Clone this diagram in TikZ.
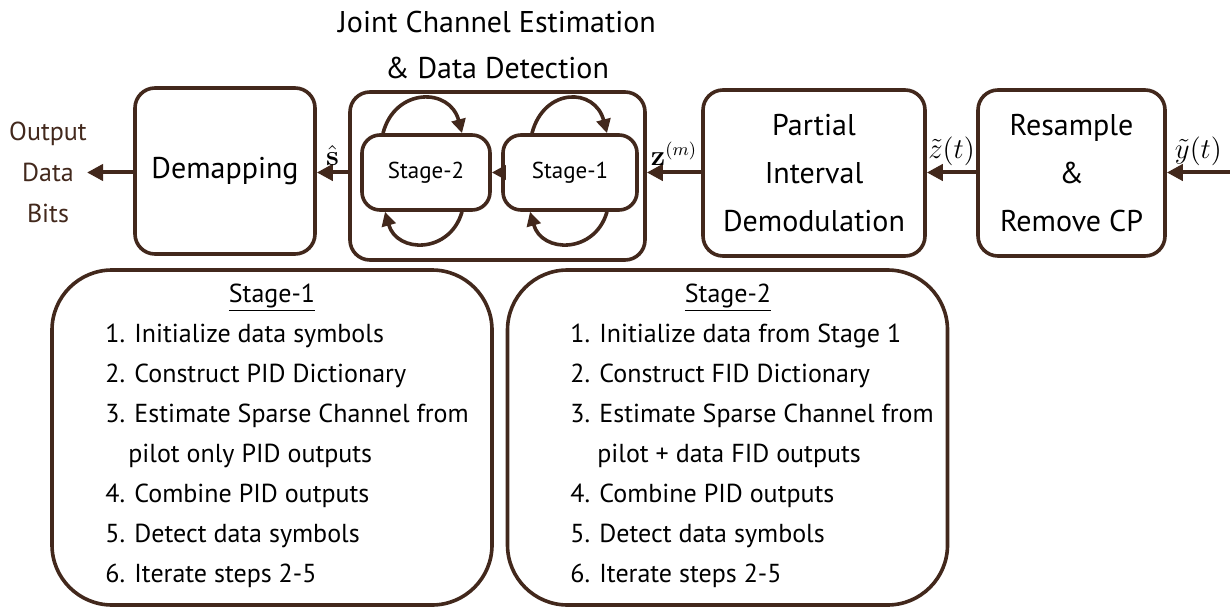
\documentclass[tikz,border=0pt]{standalone}
\usepackage[no-math]{fontspec}
\setmainfont{PT Sans}
\usepackage{amsmath}
\usetikzlibrary{arrows.meta}
\definecolor{rxbrown}{RGB}{66,40,28}

\begin{document}
\begin{tikzpicture}[x=0.5pt, y=-0.5pt,
    blockbox/.style ={draw=rxbrown, line width=1.8pt, rounded corners=10pt, align=center,
                      minimum height=83pt, font=\fontsize{15}{24}\selectfont},
    stagebox/.style ={draw=rxbrown, line width=1.8pt, rounded corners=9pt,
                      minimum height=37.5pt, font=\fontsize{11.5}{13}\selectfont},
    listbox/.style ={draw=rxbrown, line width=1.8pt, rounded corners=30pt,
                     minimum width=220pt, minimum height=167.5pt},
    listtext/.style ={align=left, inner sep=0pt, anchor=north west, font=\fontsize{13}{20}\selectfont},
    sig/.style ={draw=rxbrown, line width=2pt, -{Triangle[length=8pt,width=8pt]}},
    iterarc/.style ={draw=rxbrown, line width=1.8pt, -{Triangle[length=7pt,width=7pt]}},
    siglabel/.style ={font=\fontsize{13.5}{16}\selectfont, inner sep=0.5pt, above=2pt}]
   \useasboundingbox (0,0) rectangle (1230,609);

   % title over the joint block
   \node[align=center, font=\fontsize{15}{23}\selectfont] (jtitle) at (497,45)
        {Joint Channel Estimation\\ \& Data Detection};

   % main chain
   \node[blockbox, minimum width=90pt] (demap) at (225,171) {Demapping};
   \node[blockbox, minimum width=147.5pt, minimum height=84pt] (joint) at (497.5,176) {};
   \node[blockbox, minimum width=111pt] (pid) at (814,173) {Partial\\ Interval\\ Demodulation};
   \node[blockbox, minimum width=93.5pt] (resample) at (1071.5,173) {Resample\\ \&\\ Remove CP};
   \node[stagebox, minimum width=64pt] (st2) at (426,172.5) {Stage-2};
   \node[stagebox, minimum width=67pt] (st1) at (570,172.5) {Stage-1};
   \node[align=center, text=rxbrown, font=\fontsize{13}{20.5}\selectfont] (bits) at (48,172) {Output\\ Data\\ Bits};
   \coordinate (yin) at (1230,172.5);
   \coordinate (bitsend) at (87,172.5);

   \draw[sig] (yin) -- (resample.east |- yin) node[siglabel, midway] {$\tilde{y}(t)$};
   \draw[sig] (resample.west |- yin) -- (pid.east |- yin) node[siglabel, midway] {$\tilde{z}(t)$};
   \draw[sig] (pid.west |- yin) -- (joint.east |- yin) node[siglabel, midway] {$\mathbf{z}^{(m)}$};
   \draw[sig] (joint.west |- yin) -- (demap.east |- yin) node[siglabel, midway] {$\hat{\mathbf{s}}$};
   \draw[sig] (demap.west |- yin) -- (bitsend);
   \draw[iterarc] (st1.west) -- (st2.east);

   % iterations inside each stage
   \draw[iterarc] ([xshift=-21.5pt]st2.north) .. controls +(12,-46) and +(-12,-46) .. ([xshift=18pt]st2.north);
   \draw[iterarc] ([xshift=18pt]st2.south) .. controls +(-12,42) and +(12,42) .. ([xshift=-20.5pt]st2.south);
   \draw[iterarc] ([xshift=-19pt]st1.north) .. controls +(12,-46) and +(-12,-46) .. ([xshift=18.5pt]st1.north);
   \draw[iterarc] ([xshift=18.5pt]st1.south) .. controls +(-12,42) and +(12,42) .. ([xshift=-20pt]st1.south);

   % algorithm steps
   \node[listbox] (s1box) at (272,437.5) {};
   \node[listbox] (s2box) at (727.5,437.5) {};
   \node[font=\fontsize{13}{15}\selectfont] (s1title) at (272,298) {\underline{Stage-1}};
   \node[font=\fontsize{13}{15}\selectfont] (s2title) at (728,298) {\underline{Stage-2}};
   \node[listtext] (s1list) at (105,324) {1. Initialize data symbols\\
        2. Construct PID Dictionary\\
        3. Estimate Sparse Channel from\\
        \hspace*{11.5pt}pilot only PID outputs\\
        4. Combine PID outputs\\
        5. Detect data symbols\\
        6. Iterate steps 2-5};
   \node[listtext] (s2list) at (570,324) {1. Initialize data from Stage 1\\
        2. Construct FID Dictionary\\
        3. Estimate Sparse Channel from\\
        \hspace*{13.5pt}pilot + data FID outputs\\
        4. Combine PID outputs\\
        5. Detect data symbols\\
        6. Iterate steps 2-5};
\end{tikzpicture}
\end{document}
